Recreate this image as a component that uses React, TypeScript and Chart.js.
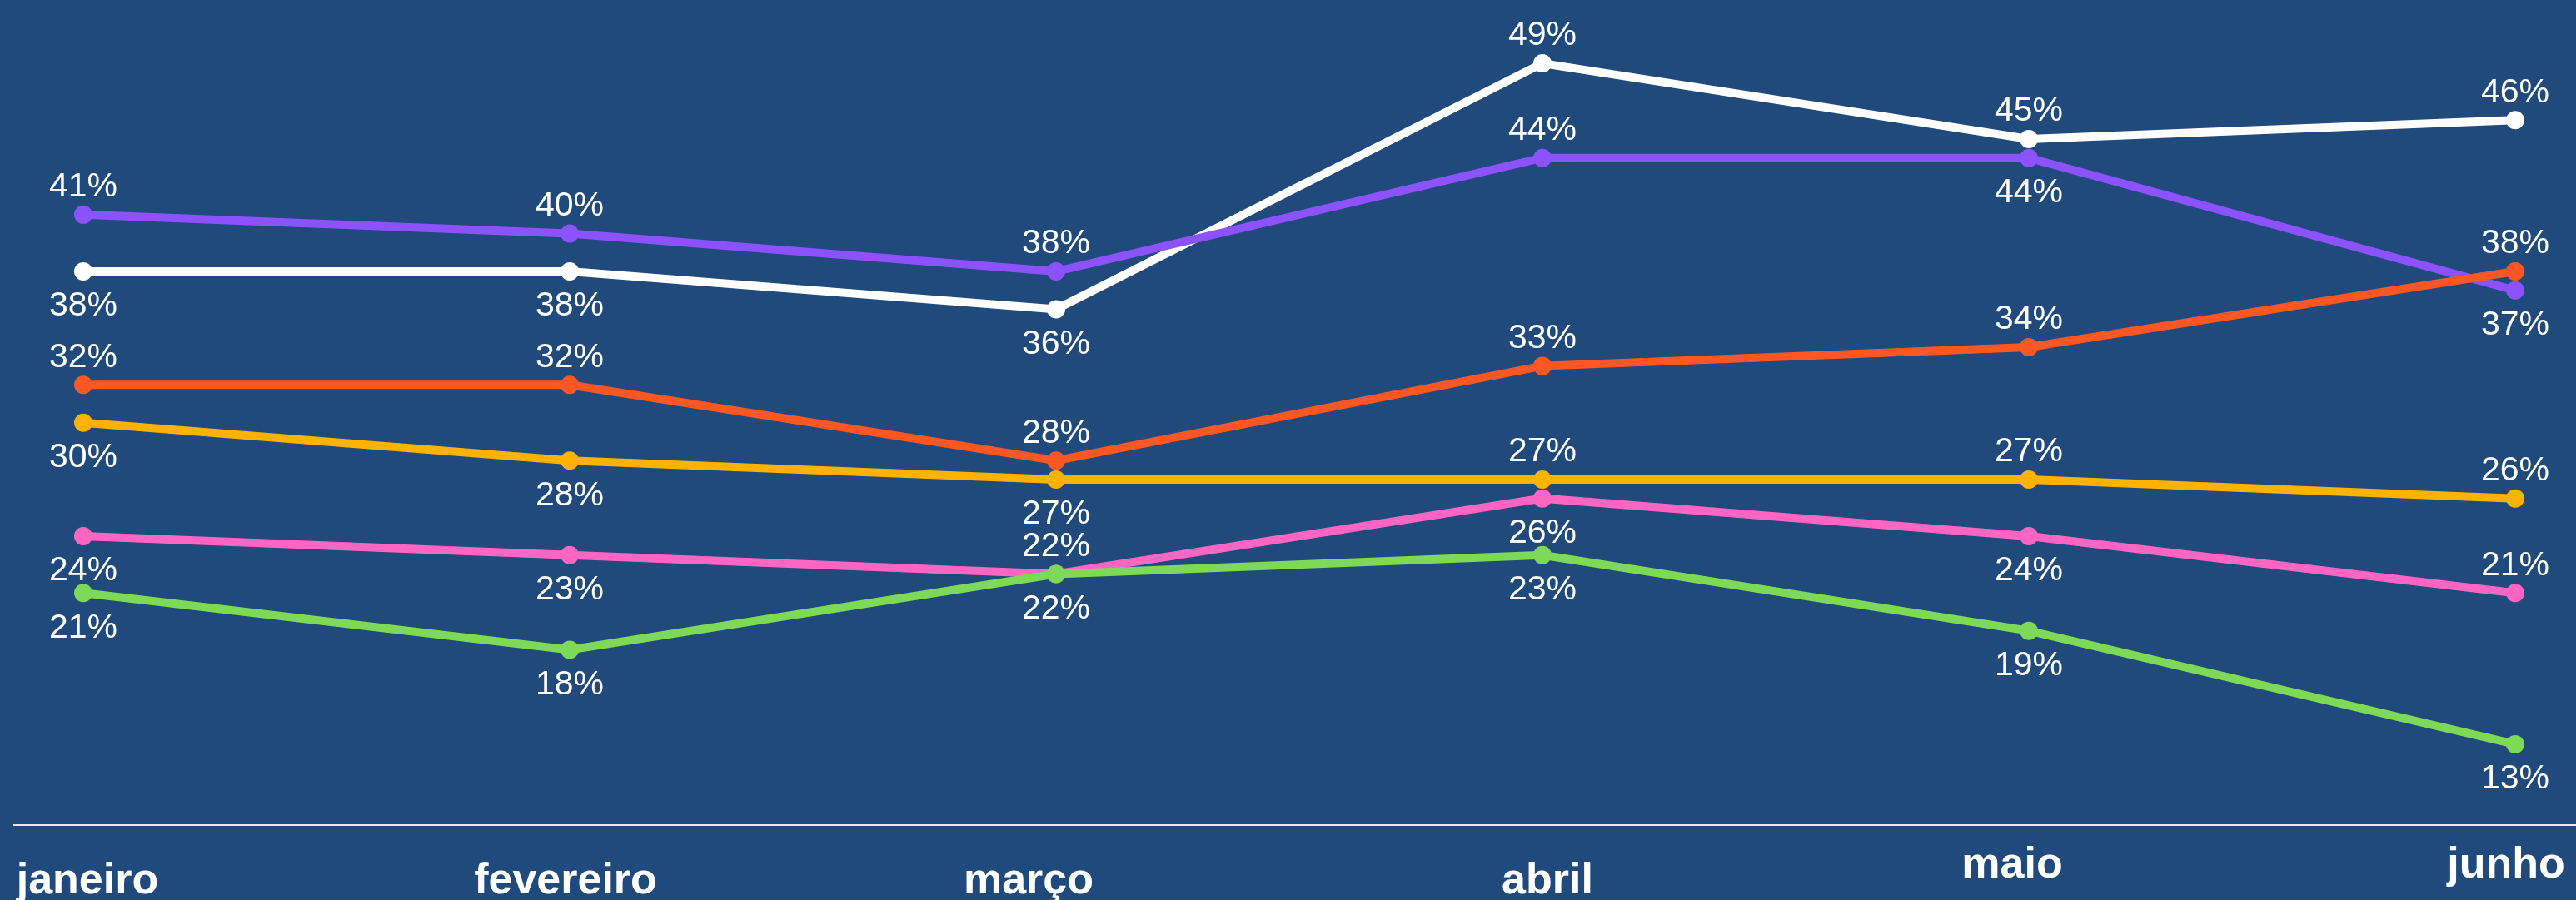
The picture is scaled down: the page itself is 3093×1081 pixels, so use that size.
import React, { useEffect, useRef } from 'react';
import { Chart, registerables } from 'chart.js';

Chart.register(...registerables);

// ---- data ----
const months = ['janeiro', 'fevereiro', 'março', 'abril', 'maio', 'junho'];

const serieBranca = [38, 38, 36, 49, 45, 46];
const serieRoxa = [41, 40, 38, 44, 44, 37];
const serieLaranja = [32, 32, 28, 33, 34, 38];
const serieAmarela = [30, 28, 27, 27, 27, 26];
const serieRosa = [24, 23, 22, 26, 24, 21];
const serieVerde = [21, 18, 22, 23, 19, 13];

// value-label placement: 1 = above the point, -1 = below
const posBranca = [-1, -1, -1, 1, 1, 1];
const posRoxa = [1, 1, 1, 1, -1, -1];
const posLaranja = [1, 1, 1, 1, 1, 1];
const posAmarela = [-1, -1, -1, 1, 1, 1];
const posRosa = [-1, -1, 1, -1, -1, 1];
const posVerde = [-1, -1, -1, -1, -1, -1];

// month-label layout tweaks (text only): raised labels and horizontal nudge in px
const monthRaised = [false, false, false, false, true, true];
const monthNudgePx = [5, -5, -33, 6, -20, -11];

const BG = '#204a7b';

const series = [
  { values: serieBranca, pos: posBranca, color: '#ffffff', order: 5 },
  { values: serieRoxa, pos: posRoxa, color: '#8c52ff', order: 4 },
  { values: serieLaranja, pos: posLaranja, color: '#ff5724', order: 3 },
  { values: serieAmarela, pos: posAmarela, color: '#ffb200', order: 2 },
  { values: serieRosa, pos: posRosa, color: '#ff66c4', order: 1 },
  { values: serieVerde, pos: posVerde, color: '#7ed957', order: 0 },
];

const valueLabels = {
  id: 'valueLabels',
  afterDatasetsDraw(chart: any) {
    const ctx = chart.ctx;
    ctx.save();
    ctx.font = '41px "Liberation Sans", Arial, sans-serif';
    ctx.fillStyle = '#ffffff';
    ctx.textAlign = 'center';
    ctx.textBaseline = 'middle';
    series.forEach((s, di) => {
      const meta = chart.getDatasetMeta(di);
      meta.data.forEach((el: any, j: number) => {
        const dy = s.pos[j] > 0 ? -33 : 42;
        ctx.fillText(`${s.values[j]}%`, el.x, el.y + dy);
      });
    });
    ctx.restore();
  },
};

const noPadding = (scale: any) => {
  scale.paddingTop = 0;
  scale.paddingBottom = 0;
  scale.paddingLeft = 0;
  scale.paddingRight = 0;
};

export default function App() {
  const ref = useRef<HTMLCanvasElement | null>(null);

  useEffect(() => {
    if (!ref.current) return;
    const chart = new Chart(ref.current, {
      type: 'line',
      data: {
        datasets: series.map((s) => ({
          data: s.values.map((v, i) => ({ x: i, y: v })),
          borderColor: s.color,
          backgroundColor: s.color,
          pointBackgroundColor: s.color,
          borderWidth: 10,
          pointRadius: 11,
          pointBorderWidth: 0,
          pointHoverRadius: 11,
          tension: 0,
          fill: false,
          order: s.order,
          clip: false as any,
        })),
      },
      options: {
        responsive: false,
        animation: false,
        layout: { autoPadding: false, padding: { left: 17, right: 0, top: 0, bottom: 0 } },
        plugins: {
          legend: { display: false },
          tooltip: { enabled: false },
          title: { display: false },
        },
        scales: {
          x: {
            type: 'linear',
            min: -0.1421,
            max: 5.125,
            bounds: 'data',
            afterBuildTicks: (axis: any) => {
              const w = axis.width || 3076;
              const pxPerUnit = w / (axis.max - axis.min);
              axis.ticks = months.map((_, i) => ({ value: i + monthNudgePx[i] / pxPerUnit }));
            },
            afterFit: noPadding,
            grid: { display: false, drawTicks: false, tickLength: 0 },
            border: { display: true, color: '#e8e8e8', width: 2 },
            ticks: {
              color: '#ffffff',
              padding: 0,
              maxRotation: 0,
              autoSkip: false,
              callback: (_v: any, i: number) => months[i] ?? '',
              font: (ctx: any) => ({
                family: '"Liberation Sans", Arial, sans-serif',
                weight: 'bold',
                size: 52,
                lineHeight: monthRaised[ctx.index] ? '98px' : '136px',
              }),
            },
          },
          y: {
            display: false,
            min: 8.73,
            max: 52.35,
            afterFit: noPadding,
          },
        },
      },
      plugins: [valueLabels],
    });
    return () => chart.destroy();
  }, []);

  return (
    <div
      style={{
        position: 'fixed',
        left: 0,
        top: 0,
        width: 3093,
        height: 1081,
        overflow: 'hidden',
        background: BG,
      }}
    >
      <canvas ref={ref} width={3093} height={1127} style={{ display: 'block' }} />
    </div>
  );
}
